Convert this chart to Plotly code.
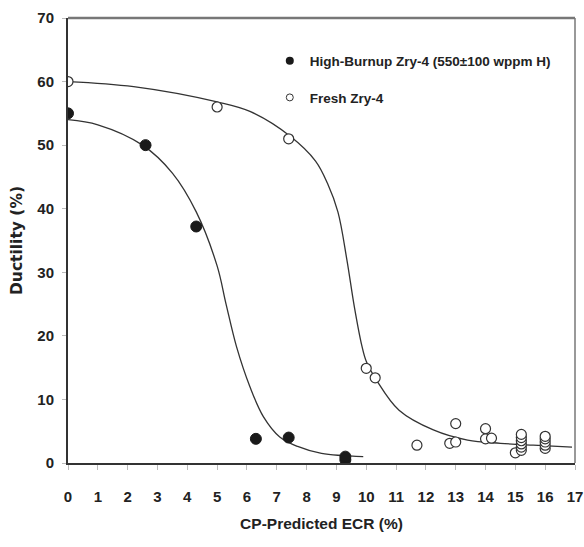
import plotly.graph_objects as go

# High-burnup Zry-4 measured points
hb_x = [0, 2.6, 4.3, 6.3, 7.4, 9.3, 9.3]
hb_y = [55, 50, 37.2, 3.8, 4.0, 0.5, 1.0]

# Fresh Zry-4 measured points
fr_x = [0, 5.0, 7.4, 10.0, 10.3, 11.7, 12.8, 13.0, 13.0, 14.0, 14.0, 14.2, 15.0,
        15.2, 15.2, 15.2, 15.2, 15.2, 15.2, 16.0, 16.0, 16.0, 16.0, 16.0]
fr_y = [60, 56, 51, 14.9, 13.4, 2.8, 3.1, 6.2, 3.3, 5.4, 3.8, 3.9, 1.6,
        2.0, 2.5, 3.0, 3.5, 4.0, 4.5, 2.3, 2.8, 3.3, 3.8, 4.2]

# Fitted curves
hb_fit_x = [0, 1.0, 2.5, 3.5, 4.3, 5.0, 5.3, 5.65, 6.1, 6.55, 7.1, 7.7, 8.5, 9.9]
hb_fit_y = [54, 53.2, 50, 45.6, 39.5, 31, 25, 18.3, 12, 7.3, 4.1, 2.6, 1.5, 1.0]

fr_fit_x = [0, 2.2, 5.0, 6.1, 7.45, 8.3, 8.7, 9.05, 9.35, 9.6, 9.85, 10.0, 10.35, 11.1,
            12.25, 13.4, 14.5, 15.6, 16.9]
fr_fit_y = [60, 59.2, 56.8, 55.3, 51.4, 47.5, 44, 39.5, 32, 24.6, 18.5, 16, 13, 8.3,
            5.2, 3.6, 3.1, 2.8, 2.5]

x_ticks = list(range(0, 18))
y_ticks = list(range(0, 71, 10))

SANS = "Liberation Sans, Arial, sans-serif"
WIDE = "DejaVu Sans, Liberation Sans, Arial, sans-serif"

fig = go.Figure()

fig.add_trace(go.Scatter(x=hb_fit_x, y=hb_fit_y, mode="lines", line=dict(color="#333", width=1.3, shape="spline"),
                         showlegend=False, hoverinfo="skip"))
fig.add_trace(go.Scatter(x=fr_fit_x, y=fr_fit_y, mode="lines", line=dict(color="#333", width=1.3, shape="spline"),
                         showlegend=False, hoverinfo="skip"))

fig.add_trace(go.Scatter(x=hb_x, y=hb_y, mode="markers",
                         marker=dict(size=11, color="#1a1a1a", line=dict(color="#1a1a1a", width=1)),
                         showlegend=False))
fig.add_trace(go.Scatter(x=fr_x, y=fr_y, mode="markers",
                         marker=dict(size=10, color="white", line=dict(color="#333", width=1.2)),
                         showlegend=False))

# legend-only entries (smaller symbols as in the original)
fig.add_trace(go.Scatter(x=[None], y=[None], mode="markers", name="High-Burnup Zry-4 (550±100 wppm H)",
                         legendgroup="a", marker=dict(size=8, color="#1a1a1a")))
fig.add_trace(go.Scatter(x=[None], y=[None], mode="markers", name="Fresh Zry-4",
                         legendgroup="b", marker=dict(size=7, color="white", line=dict(color="#333", width=1))))

fig.update_layout(
    width=584, height=547,
    margin=dict(l=68, r=9, t=18, b=84, autoexpand=False),
    paper_bgcolor="white", plot_bgcolor="white",
    font=dict(family=SANS, size=15, color="#222"),
    legend=dict(x=0.398, y=0.938, xanchor="left", yanchor="top", bgcolor="rgba(0,0,0,0)",
                font=dict(family=SANS, size=13.5, color="#222", weight="bold"),
                itemwidth=30, traceorder="grouped", tracegroupgap=16),
    shapes=[
        dict(type="line", xref="paper", yref="paper", x0=0, x1=1, y0=1, y1=1, line=dict(color="#777", width=2.5)),
        dict(type="line", xref="paper", yref="paper", x0=1, x1=1, y0=0, y1=1, line=dict(color="#777", width=1.5)),
    ],
)

fig.update_xaxes(range=[0, 17], tickvals=x_ticks, ticktext=[str(v) for v in x_ticks],
                 showgrid=False, zeroline=False, showline=True, linecolor="#333", linewidth=2,
                 ticks="outside", ticklen=5, tickcolor="#bbb", ticklabelstandoff=14, automargin=False,
                 ticklabeloverflow="allow",
                 tickfont=dict(family=SANS, size=15, color="#222", weight="bold"),
                 title=dict(text="CP-Predicted ECR (%)", standoff=14,
                            font=dict(family=SANS, size=15.5, color="#222", weight="bold")))
fig.update_yaxes(range=[0, 70], tickvals=y_ticks, ticktext=[str(v) for v in y_ticks],
                 showgrid=False, zeroline=False, showline=True, linecolor="#333", linewidth=2,
                 ticks="outside", ticklen=4, tickcolor="#bbb", ticklabelstandoff=5, automargin=False,
                 tickfont=dict(family=SANS, size=15, color="#222", weight="bold"),
                 title=dict(text="Ductility (%)", standoff=11,
                            font=dict(family=WIDE, size=15.5, color="#222", weight="bold")))

fig.write_html("out.html")
